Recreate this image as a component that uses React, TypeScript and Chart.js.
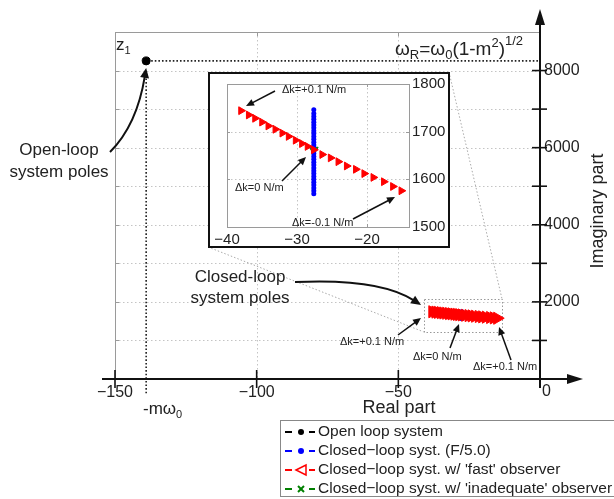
import React, { useEffect, useRef } from 'react';
import { Chart, registerables } from 'chart.js';

Chart.register(...registerables);

const FONT = '"Liberation Sans", Arial, Helvetica, sans-serif';
const MINUS = '\u2212';

// ---------------- data ----------------
const openLoopX = [-139];
const openLoopY = [8250];

const closedLoopX = [-27.6];
const closedLoopY = [1570, 1576, 1582, 1588, 1594, 1600, 1606, 1612, 1618, 1624, 1630, 1636, 1642, 1648, 1654, 1660, 1666, 1672, 1678, 1684, 1690, 1696, 1702, 1708, 1714, 1720, 1726, 1732, 1738, 1746];

const fastObsX = [-38.0, -36.9, -36.0, -35.0, -34.1, -33.1, -32.1, -31.2, -30.2, -29.3, -28.5, -27.6, -26.4, -25.2, -24.1, -22.9, -21.6, -20.4, -19.1, -17.6, -16.3, -15.1];
const fastObsY = [1744, 1735, 1728, 1720, 1712, 1705, 1697, 1690, 1682, 1675, 1669, 1662, 1652, 1645, 1637, 1628, 1621, 1612, 1604, 1595, 1585, 1576];

const inadequateX = [-27.6];
const inadequateY = [1662];

const mainXTicks = [-150, -100, -50, 0];
const mainYTicks = [1000, 2000, 3000, 4000, 5000, 6000, 7000, 8000, 9000];
const mainYLabels = [2000, 4000, 6000, 8000];
const insetXTicks = [-40, -30, -20];
const insetYTicks = [1500, 1600, 1700, 1800];

const zoomBoxX = [-41, -13.4];
const zoomBoxY = [1220, 2075];

const legendLabels = [
  'Open loop system',
  'Closed\u2212loop syst. (F/5.0)',
  "Closed\u2212loop syst. w/ 'fast' observer",
  "Closed\u2212loop syst. w/ 'inadequate' observer",
];
const seriesColors = ['#000000', '#0000ff', '#ff0000', '#008000'];

// ---------------- helpers ----------------
const fmt = (v: number) => (v < 0 ? MINUS + Math.abs(v) : String(v));
const pts = (xs: number[], ys: number[]) =>
  ys.map((y, i) => ({ x: xs.length === 1 ? xs[0] : xs[i], y }));

function line(ctx: CanvasRenderingContext2D, x1: number, y1: number, x2: number, y2: number) {
  ctx.beginPath();
  ctx.moveTo(x1, y1);
  ctx.lineTo(x2, y2);
  ctx.stroke();
}

function arrow(ctx: CanvasRenderingContext2D, p: number[][], head = 8, lw = 2) {
  ctx.save();
  ctx.strokeStyle = '#111';
  ctx.fillStyle = '#111';
  ctx.lineWidth = lw;
  ctx.setLineDash([]);
  const end = p[p.length - 1];
  const prev = p[p.length - 2];
  const ang = Math.atan2(end[1] - prev[1], end[0] - prev[0]);
  const bx = end[0] - Math.cos(ang) * head * 0.8;
  const by = end[1] - Math.sin(ang) * head * 0.8;
  ctx.beginPath();
  ctx.moveTo(p[0][0], p[0][1]);
  if (p.length === 3) ctx.quadraticCurveTo(p[1][0], p[1][1], bx, by);
  else ctx.lineTo(bx, by);
  ctx.stroke();
  ctx.beginPath();
  ctx.moveTo(end[0], end[1]);
  ctx.lineTo(end[0] - Math.cos(ang) * head - Math.sin(ang) * head * 0.45, end[1] - Math.sin(ang) * head + Math.cos(ang) * head * 0.45);
  ctx.lineTo(end[0] - Math.cos(ang) * head + Math.sin(ang) * head * 0.45, end[1] - Math.sin(ang) * head - Math.cos(ang) * head * 0.45);
  ctx.closePath();
  ctx.fill();
  ctx.restore();
}

function rich(ctx: CanvasRenderingContext2D, x: number, y: number, parts: [string, number, number][]) {
  let cx = x;
  ctx.textAlign = 'left';
  ctx.textBaseline = 'alphabetic';
  for (const [t, sz, dy] of parts) {
    ctx.font = `${sz}px ${FONT}`;
    ctx.fillText(t, cx, y + dy);
    cx += ctx.measureText(t).width;
  }
}

function text(ctx: CanvasRenderingContext2D, t: string, x: number, y: number, size: number, align: CanvasTextAlign = 'left') {
  ctx.font = `${size}px ${FONT}`;
  ctx.textAlign = align;
  ctx.textBaseline = 'middle';
  ctx.fillText(t, x, y);
}

// ---------------- plugins ----------------
const mainPlugin = {
  id: 'mainDecor',
  beforeDatasetsDraw(chart: any) {
    const { ctx, chartArea: a, scales } = chart;
    const x = scales.x, y = scales.y;
    ctx.save();
    // grid
    ctx.strokeStyle = '#c4c4c4';
    ctx.lineWidth = 1;
    ctx.setLineDash([1.5, 2.5]);
    for (const v of mainXTicks) {
      if (v === -150 || v === 0) continue;
      const px = Math.round(x.getPixelForValue(v)) + 0.5;
      line(ctx, px, a.top, px, a.bottom);
    }
    for (const v of mainYTicks) {
      if (v >= 9000) continue;
      const py = Math.round(y.getPixelForValue(v)) + 0.5;
      line(ctx, a.left, py, a.right, py);
    }
    ctx.setLineDash([]);
    // frame
    ctx.strokeStyle = '#9a9a9a';
    line(ctx, a.left + 0.5, a.top, a.left + 0.5, a.bottom);
    line(ctx, a.left, a.top + 0.5, a.right, a.top + 0.5);
    for (const v of mainYTicks) {
      const py = Math.round(y.getPixelForValue(v)) + 0.5;
      line(ctx, a.left, py, a.left + 4, py);
    }
    for (const v of mainXTicks) {
      const px = Math.round(x.getPixelForValue(v)) + 0.5;
      line(ctx, px, a.top, px, a.top + 4);
    }
    // zoom box
    ctx.strokeStyle = '#999';
    ctx.setLineDash([1.5, 2]);
    const bx1 = x.getPixelForValue(zoomBoxX[0]), bx2 = x.getPixelForValue(zoomBoxX[1]);
    const by1 = y.getPixelForValue(zoomBoxY[1]), by2 = y.getPixelForValue(zoomBoxY[0]);
    ctx.strokeRect(Math.round(bx1) + 0.5, Math.round(by1) + 0.5, Math.round(bx2 - bx1), Math.round(by2 - by1));
    // connectors from the inset
    ctx.strokeStyle = '#aaa';
    line(ctx, 208, 247, bx1, by2);
    line(ctx, 449, 72, bx2, by1);
    // pole guides
    const px = x.getPixelForValue(openLoopX[0]);
    const py = y.getPixelForValue(openLoopY[0]);
    ctx.strokeStyle = '#222';
    ctx.lineWidth = 1.6;
    ctx.setLineDash([1.6, 2]);
    line(ctx, px + 5, py, a.right, py);
    line(ctx, px, py + 14, px, a.bottom + 16);
    ctx.restore();
  },
  afterDraw(chart: any) {
    const { ctx, chartArea: a, scales } = chart;
    const x = scales.x, y = scales.y;
    ctx.save();
    ctx.fillStyle = '#111';
    ctx.strokeStyle = '#111';
    // axes
    ctx.lineWidth = 2;
    line(ctx, 102, a.bottom, 570, a.bottom);
    ctx.beginPath();
    ctx.moveTo(583, a.bottom);
    ctx.lineTo(567, a.bottom - 5);
    ctx.lineTo(567, a.bottom + 5);
    ctx.closePath();
    ctx.fill();
    line(ctx, a.right, a.bottom + 9, a.right, 24);
    ctx.beginPath();
    ctx.moveTo(a.right, 9);
    ctx.lineTo(a.right - 5, 25);
    ctx.lineTo(a.right + 5, 25);
    ctx.closePath();
    ctx.fill();
    ctx.lineWidth = 1.6;
    for (const v of mainXTicks) {
      if (v === 0) continue;
      const px = x.getPixelForValue(v);
      line(ctx, px, a.bottom - 9, px, a.bottom + 9);
    }
    for (const v of mainYTicks) {
      if (v >= 9000) continue;
      const py = y.getPixelForValue(v);
      line(ctx, a.right - 8, py, a.right + 7, py);
    }
    ctx.fillStyle = '#222';
    text(ctx, '0', a.right + 2, 392, 16);
    // titles
    text(ctx, 'Real part', 399, 408, 18, 'center');
    ctx.save();
    ctx.translate(598, 211);
    ctx.rotate(-Math.PI / 2);
    text(ctx, 'Imaginary part', 0, 0, 18, 'center');
    ctx.restore();
    rich(ctx, 143, 414, [['-m\u03c9', 17, 0], ['0', 11, 4]]);
    rich(ctx, 116, 50, [['z', 17, 0], ['1', 11, 4]]);
    rich(ctx, 395, 55, [['\u03c9', 19, 0], ['R', 13, 4], ['=\u03c9', 19, 0], ['0', 13, 4], ['(1-m', 19, 0], ['2', 13, -8], [')', 19, 0], ['1/2', 13, -10]]);
    // annotations
    text(ctx, 'Open-loop', 59, 150, 17, 'center');
    text(ctx, 'system poles', 59, 172, 17, 'center');
    const ppx = x.getPixelForValue(openLoopX[0]);
    const ppy = y.getPixelForValue(openLoopY[0]);
    arrow(ctx, [[110, 152], [137, 125], [ppx, ppy + 7]], 10, 2);
    text(ctx, 'Closed-loop', 240, 277, 17, 'center');
    text(ctx, 'system poles', 240, 298, 17, 'center');
    arrow(ctx, [[295, 282], [380, 278], [421, 305]], 10, 2);
    text(ctx, '\u0394k=+0.1 N/m', 340, 342, 11);
    arrow(ctx, [[398, 335], [421, 318]], 8, 1.5);
    text(ctx, '\u0394k=0 N/m', 413, 357, 11);
    arrow(ctx, [[450, 348], [459, 324]], 8, 1.5);
    text(ctx, '\u0394k=+0.1 N/m', 473, 367, 11);
    arrow(ctx, [[511, 360], [499, 327]], 8, 1.5);
    // legend
    ctx.strokeStyle = '#888';
    ctx.lineWidth = 1;
    ctx.fillStyle = '#fff';
    ctx.fillRect(281, 421, 340, 76);
    ctx.strokeRect(280.5, 420.5, 340, 76);
    const rows = [432, 451, 470, 489];
    rows.forEach((ry, i) => {
      const c = seriesColors[i];
      ctx.strokeStyle = c;
      ctx.fillStyle = c;
      ctx.lineWidth = 2;
      line(ctx, 285, ry, 292, ry);
      line(ctx, 309, ry, 315, ry);
      if (i <= 1) {
        ctx.beginPath();
        ctx.arc(301, ry, 3, 0, Math.PI * 2);
        ctx.fill();
      } else if (i === 2) {
        ctx.lineWidth = 1.5;
        ctx.beginPath();
        ctx.moveTo(296, ry);
        ctx.lineTo(306, ry - 5);
        ctx.lineTo(306, ry + 5);
        ctx.closePath();
        ctx.stroke();
      } else {
        ctx.lineWidth = 2;
        line(ctx, 298, ry - 3, 304, ry + 3);
        line(ctx, 298, ry + 3, 304, ry - 3);
      }
      ctx.fillStyle = '#222';
      text(ctx, legendLabels[i], 318, ry, 15.5);
    });
    ctx.restore();
  },
};

const insetPlugin = {
  id: 'insetDecor',
  beforeDraw(chart: any) {
    const { ctx, width, height } = chart;
    ctx.save();
    ctx.fillStyle = '#fff';
    ctx.fillRect(0, 0, width, height);
    ctx.restore();
  },
  beforeDatasetsDraw(chart: any) {
    const { ctx, chartArea: a, scales } = chart;
    const x = scales.x, y = scales.y;
    ctx.save();
    ctx.strokeStyle = '#c4c4c4';
    ctx.lineWidth = 1;
    ctx.setLineDash([1.5, 2.5]);
    for (const v of insetXTicks) {
      if (v === -40) continue;
      const px = Math.round(x.getPixelForValue(v)) + 0.5;
      line(ctx, px, a.top, px, a.bottom);
    }
    for (const v of insetYTicks) {
      if (v === 1500 || v === 1800) continue;
      const py = Math.round(y.getPixelForValue(v)) + 0.5;
      line(ctx, a.left, py, a.right, py);
    }
    ctx.setLineDash([]);
    ctx.strokeStyle = '#9a9a9a';
    ctx.strokeRect(Math.round(a.left) + 0.5, Math.round(a.top) + 0.5, Math.round(a.right - a.left), Math.round(a.bottom - a.top));
    for (const v of insetXTicks) {
      const px = Math.round(x.getPixelForValue(v)) + 0.5;
      line(ctx, px, a.bottom, px, a.bottom - 3);
      line(ctx, px, a.top, px, a.top + 3);
    }
    for (const v of insetYTicks) {
      const py = Math.round(y.getPixelForValue(v)) + 0.5;
      line(ctx, a.left, py, a.left + 3, py);
      line(ctx, a.right, py, a.right - 3, py);
    }
    ctx.restore();
  },
  afterDraw(chart: any) {
    const { ctx, width, height } = chart;
    ctx.save();
    ctx.fillStyle = '#222';
    text(ctx, '\u0394k=+0.1 N/m', 74, 18, 11);
    arrow(ctx, [[67, 19], [38, 34]], 8, 1.5);
    text(ctx, '\u0394k=0 N/m', 27, 116, 11);
    arrow(ctx, [[74, 109], [98, 85]], 8, 1.5);
    text(ctx, '\u0394k=-0.1 N/m', 84, 151, 11);
    arrow(ctx, [[145, 147], [187, 125]], 8, 1.5);
    ctx.strokeStyle = '#111';
    ctx.lineWidth = 2;
    ctx.strokeRect(1, 1, width - 2, height - 2);
    ctx.restore();
  },
};

const tickFont = (size: number) => ({ family: FONT, size });

export default function App() {
  const mainRef = useRef<HTMLCanvasElement>(null);
  const insetRef = useRef<HTMLCanvasElement>(null);

  useEffect(() => {
    const blue = pts(closedLoopX, closedLoopY);
    const red = pts(fastObsX, fastObsY);
    const green = pts(inadequateX, inadequateY);

    const main = new Chart(mainRef.current!, {
      type: 'scatter',
      data: {
        datasets: [
          { label: legendLabels[0], data: pts(openLoopX, openLoopY), pointRadius: 4, backgroundColor: '#000', borderColor: '#000' },
          { label: legendLabels[2], data: red, pointStyle: 'triangle', rotation: 90, pointRadius: 7, backgroundColor: '#ff0000', borderColor: '#ff0000', borderWidth: 1 },
          { label: legendLabels[1], data: blue, pointRadius: 2.5, backgroundColor: '#0000ff', borderColor: '#0000ff', borderWidth: 0 },
          { label: legendLabels[3], data: green, pointStyle: 'triangle', rotation: 180, pointRadius: 5, backgroundColor: '#008000', borderColor: '#008000' },
        ],
      },
      options: {
        animation: false,
        responsive: false,
        events: [],
        layout: { padding: { left: 115, top: 32, right: 0, bottom: 0 } },
        plugins: { legend: { display: false }, tooltip: { enabled: false } },
        scales: {
          x: {
            type: 'linear', position: 'bottom', min: -150, max: 0,
            afterFit: (s: any) => { s.height = 120; },
            grid: { display: false, drawTicks: false }, border: { display: false },
            ticks: { stepSize: 50, autoSkip: false, maxRotation: 0, padding: 4, color: '#222', font: tickFont(16),
              callback: (v: any) => (v === 0 ? '' : fmt(Number(v))) },
          },
          y: {
            type: 'linear', position: 'right', min: 0, max: 9000,
            afterFit: (s: any) => { s.width = 74; },
            grid: { display: false, drawTicks: false }, border: { display: false },
            ticks: { stepSize: 1000, autoSkip: false, padding: 4, color: '#222', font: tickFont(16),
              callback: (v: any) => (mainYLabels.includes(Number(v)) ? String(v) : '') },
          },
        },
      },
      plugins: [mainPlugin],
    } as any);

    const inset = new Chart(insetRef.current!, {
      type: 'scatter',
      data: {
        datasets: [
          { label: legendLabels[2], data: red, pointStyle: 'triangle', rotation: 90, pointRadius: 4.5, backgroundColor: '#ff0000', borderColor: '#ff0000', borderWidth: 1 },
          { label: legendLabels[1], data: blue, pointRadius: 2.5, backgroundColor: '#0000ff', borderColor: '#0000ff', borderWidth: 0 },
          { label: legendLabels[3], data: green, pointStyle: 'triangle', rotation: 180, pointRadius: 5, backgroundColor: '#008000', borderColor: '#008000' },
        ],
      },
      options: {
        animation: false,
        responsive: false,
        events: [],
        layout: { padding: { left: 19, top: 11, right: 0, bottom: 0 } },
        plugins: { legend: { display: false }, tooltip: { enabled: false } },
        scales: {
          x: {
            type: 'linear', min: -40, max: -14,
            afterFit: (s: any) => { s.height = 21; },
            grid: { display: false, drawTicks: false }, border: { display: false },
            ticks: { stepSize: 10, autoSkip: false, maxRotation: 0, padding: 4, color: '#222', font: tickFont(15),
              callback: (v: any) => (insetXTicks.includes(Number(v)) ? fmt(Number(v)) : '') },
          },
          y: {
            type: 'linear', position: 'right', min: 1500, max: 1800,
            afterFit: (s: any) => { s.width = 41; },
            grid: { display: false, drawTicks: false }, border: { display: false },
            ticks: { stepSize: 100, autoSkip: false, padding: 3, color: '#222', font: tickFont(15),
              callback: (v: any) => (insetYTicks.includes(Number(v)) ? String(v) : '') },
          },
        },
      },
      plugins: [insetPlugin],
    } as any);

    return () => {
      main.destroy();
      inset.destroy();
    };
  }, []);

  return (
    <div style={{ position: 'fixed', left: 0, top: 0, width: 614, height: 499, background: '#fff', overflow: 'hidden' }}>
      <canvas ref={mainRef} width={614} height={499} style={{ position: 'absolute', left: 0, top: 0, width: 614, height: 499 }} />
      <canvas ref={insetRef} width={242} height={176} style={{ position: 'absolute', left: 208, top: 72, width: 242, height: 176 }} />
    </div>
  );
}
